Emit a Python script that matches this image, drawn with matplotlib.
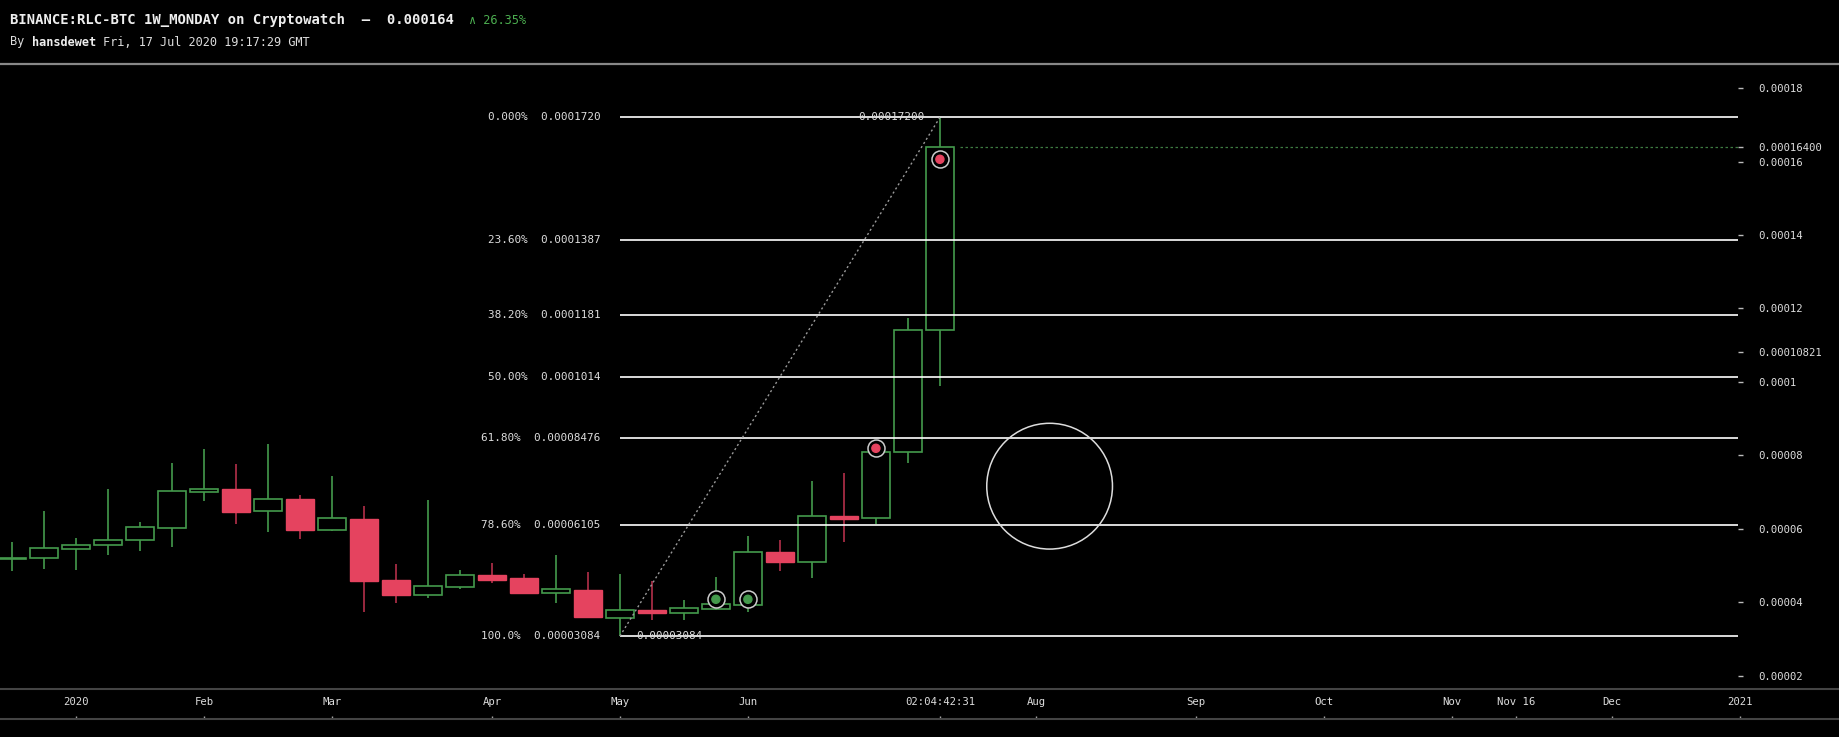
import matplotlib
matplotlib.use("Agg")
import matplotlib.pyplot as plt
import matplotlib.dates as mdates
from matplotlib.lines import Line2D
from matplotlib.patches import Ellipse
import numpy as np
import pandas as pd

# weekly candles (Monday open), prices in BTC
weeks = pd.date_range("2019-12-23", periods=30, freq="7D")
opens = [0.00005175, 0.00005203, 0.00005464, 0.00005573, 0.00005692, 0.00006040,
         0.00007015, 0.00007088, 0.00006498, 0.00006816, 0.00005981, 0.00006272,
         0.00004612, 0.00004212, 0.00004430, 0.00004748, 0.00004667, 0.00004267,
         0.00004340, 0.00003586, 0.00003796, 0.00003706, 0.00003831, 0.00003940,
         0.00005366, 0.00005110, 0.00006354, 0.00006291, 0.00008087, 0.00011415]
highs = [0.00005640, 0.00006490, 0.00005747, 0.00007080, 0.00006182, 0.00007788,
         0.00008169, 0.00007769, 0.00008313, 0.00006925, 0.00007442, 0.00006626,
         0.00005048, 0.00006781, 0.00004884, 0.00005067, 0.00004775, 0.00005292,
         0.00004830, 0.00004767, 0.00004577, 0.00004060, 0.00004686, 0.00005801,
         0.00005692, 0.00007298, 0.00007516, 0.00008100, 0.00011733, 0.00017200]
lows = [0.00004865, 0.00004919, 0.00004892, 0.00005301, 0.00005409, 0.00005518,
        0.00006770, 0.00006144, 0.00005926, 0.00005728, 0.00005954, 0.00003741,
        0.00003994, 0.00004122, 0.00004367, 0.00004539, 0.00004231, 0.00003994,
        0.00003578, 0.00003084, 0.00003516, 0.00003516, 0.00003796, 0.00003750,
        0.00004865, 0.00004675, 0.00005654, 0.00006144, 0.00007804, 0.00009900]
closes = [0.00005190, 0.00005475, 0.00005556, 0.00005692, 0.00006046, 0.00007026,
          0.00007080, 0.00006471, 0.00006808, 0.00005973, 0.00006291, 0.00004585,
          0.00004204, 0.00004449, 0.00004740, 0.00004620, 0.00004258, 0.00004359,
          0.00003605, 0.00003788, 0.00003706, 0.00003842, 0.00003951, 0.00005366,
          0.00005110, 0.00006345, 0.00006280, 0.00008087, 0.00011415, 0.00016400]

# fibonacci retracement
fib_pct = ["0.000%", "23.60%", "38.20%", "50.00%", "61.80%", "78.60%", "100.0%"]
fib_text = ["0.0001720", "0.0001387", "0.0001181", "0.0001014",
            "0.00008476", "0.00006105", "0.00003084"]
fib_price = [0.0001720, 0.0001387, 0.0001181, 0.0001014,
             0.00008476, 0.00006105, 0.00003084]
fib_start = "2020-05-04"
fib_end = "2020-07-13"

# signal markers
sig_dates = ["2020-05-25", "2020-06-01", "2020-06-29", "2020-07-13"]
sig_price = [0.00004087, 0.00004087, 0.00008196, 0.00016060]
sig_kind = ["buy", "buy", "sell", "sell"]

# drawn circle
circle_date = "2020-08-06"
circle_price = 0.00007165
circle_w_days = 27.5
circle_h = 0.00003423

last_price = 0.000164

ytick_vals = [0.00002, 0.00004, 0.00006, 0.00008, 0.0001, 0.00010821,
              0.00012, 0.00014, 0.00016, 0.000164, 0.00018]
ytick_text = ["0.00002", "0.00004", "0.00006", "0.00008", "0.0001", "0.00010821",
              "0.00012", "0.00014", "0.00016", "0.00016400", "0.00018"]

xtick_dates = ["2020-01-06", "2020-02-03", "2020-03-02", "2020-04-06", "2020-05-04",
               "2020-06-01", "2020-07-13", "2020-08-03", "2020-09-07", "2020-10-05",
               "2020-11-02", "2020-11-16", "2020-12-07", "2021-01-04"]
xtick_text = ["2020", "Feb", "Mar", "Apr", "May", "Jun", "02:04:42:31", "Aug",
              "Sep", "Oct", "Nov", "Nov 16", "Dec", "2021"]

GREEN = "#449a4c"
RED = "#e5435f"
RED_WICK = "#b3304a"
TXT = "#dddddd"
MONO = "DejaVu Sans Mono"

W, H = 1839, 737
fig = plt.figure(figsize=(W / 100, H / 100), dpi=100, facecolor="black")

# pixel layout
px_per_day = 32 / 7
x0_px = 75.9  # x of 2020-01-06
t0 = mdates.date2num(pd.Timestamp("2020-01-06"))
left_num = t0 - x0_px / px_per_day
chart_right = 1738
top_px, bot_px = 65, 689

ax = fig.add_axes([0, (H - bot_px) / H, chart_right / W, (bot_px - top_px) / H])
ax.set_facecolor("black")
ax.set_xlim(left_num, left_num + chart_right / px_per_day)
ax.set_ylim(0.00001646, 0.00018626)
for s in ax.spines.values():
    s.set_visible(False)

x = mdates.date2num(weeks)
o = np.array(opens); c = np.array(closes)
hi = np.array(highs); lo = np.array(lows)
up = c >= o
body_w = 28 / px_per_day

for i in range(len(x)):
    wick_col = GREEN if up[i] else RED_WICK
    ax.vlines(x[i], lo[i], hi[i], color=wick_col, lw=1.2, zorder=2)
    bottom = min(o[i], c[i])
    height = max(abs(c[i] - o[i]), 0.0000003)
    if up[i]:
        ax.bar(x[i], height, body_w, bottom, facecolor="black", edgecolor=GREEN,
               linewidth=1.2, zorder=3)
    else:
        ax.bar(x[i], height, body_w, bottom, facecolor=RED, edgecolor=RED,
               linewidth=1.0, zorder=3)

# fib levels
fx0 = mdates.date2num(pd.Timestamp(fib_start))
fx1 = mdates.date2num(pd.Timestamp(fib_end))
ax.hlines(fib_price, fx0, ax.get_xlim()[1], color="white", lw=1.2, zorder=4)
for pct, txt, p in zip(fib_pct, fib_text, fib_price):
    ax.annotate(f"{pct}  {txt}", (fx0, p), xytext=(-14, 0), textcoords="offset points",
                ha="right", va="center", color=TXT, fontsize=7.9, family=MONO)

# trend line of the retracement
ax.plot([fx0, fx1], [fib_price[-1], fib_price[0]], color="#9a9a9a", lw=1,
        ls=(0, (1.5, 2)), zorder=4)
ax.annotate(fib_text[0] + "0", (fx1, fib_price[0]), xytext=(-11, 0),
            textcoords="offset points", ha="right", va="center", color=TXT,
            fontsize=7.9, family=MONO, zorder=5)
ax.annotate(fib_text[-1], (fx0, fib_price[-1]), xytext=(12, 0),
            textcoords="offset points", ha="left", va="center", color=TXT,
            fontsize=7.9, family=MONO, zorder=5)

# last price line
ax.hlines(last_price, fx1 + 20 / px_per_day, ax.get_xlim()[1], color="#3d7a40",
          lw=0.9, ls=(0, (2, 2)), zorder=4)

# signal markers
sx = mdates.date2num(pd.to_datetime(sig_dates))
sc = [GREEN if k == "buy" else RED for k in sig_kind]
ax.scatter(sx, sig_price, s=150, facecolor="black", edgecolor="#cccccc",
           linewidth=1.1, zorder=6)
ax.scatter(sx, sig_price, s=34, color=sc, zorder=7)

# drawn circle
cx = mdates.date2num(pd.Timestamp(circle_date))
ax.add_patch(Ellipse((cx, circle_price), circle_w_days, circle_h, fill=False,
                     edgecolor="#dddddd", lw=1.1, zorder=5))

# right price axis
ax.yaxis.tick_right()
ax.set_yticks(ytick_vals)
ax.set_yticklabels(ytick_text)
ax.tick_params(axis="y", direction="out", length=3.6, width=1, color="#bbbbbb",
               pad=10.8, labelsize=7.7, labelcolor=TXT)
for lab in ax.get_yticklabels():
    lab.set_family(MONO)
ax.set_xticks([])

# date band
axd = fig.add_axes([0, (H - 719) / H, 1, 30 / H])
axd.set_facecolor("black")
axd.set_xlim(left_num, left_num + W / px_per_day)
axd.set_ylim(0, 1)
axd.set_yticks([])
for side in ["left", "right"]:
    axd.spines[side].set_visible(False)
for side in ["top", "bottom"]:
    axd.spines[side].set_color("#444444")
    axd.spines[side].set_linewidth(1.5)
axd.set_xticks(mdates.date2num(pd.to_datetime(xtick_dates)))
axd.set_xticklabels(xtick_text)
axd.tick_params(axis="x", direction="in", length=2.5, width=1, color="#aaaaaa",
                pad=-15.5, labelsize=7.7, labelcolor=TXT)
for lab in axd.get_xticklabels():
    lab.set_family(MONO)

# header
fig.add_artist(Line2D([0, 1], [1 - 64 / H, 1 - 64 / H], color="#888888", lw=1.6))
fig.text(10 / W, 1 - 20 / H, "BINANCE:RLC-BTC 1W_MONDAY on Cryptowatch  \u2013  0.000164",
         color="#eeeeee", fontsize=10, family=MONO, weight="bold", va="center")
fig.text(469 / W, 1 - 20 / H, "\u2227 26.35%", color="#4caf50", fontsize=8.6,
         family=MONO, va="center")
cw = 0.602 * 8.6 * 100 / 72
fig.text(10 / W, 1 - 42 / H, "By", color="#dddddd", fontsize=8.6, family=MONO,
         va="center")
fig.text((10 + 3 * cw) / W, 1 - 42 / H, "hansdewet", color="#eeeeee", fontsize=8.6,
         family=MONO, weight="bold", va="center")
fig.text((10 + 13 * cw) / W, 1 - 42 / H, "Fri, 17 Jul 2020 19:17:29 GMT",
         color="#dddddd", fontsize=8.6, family=MONO, va="center")

fig.savefig("out.png", dpi=100, facecolor="black")
